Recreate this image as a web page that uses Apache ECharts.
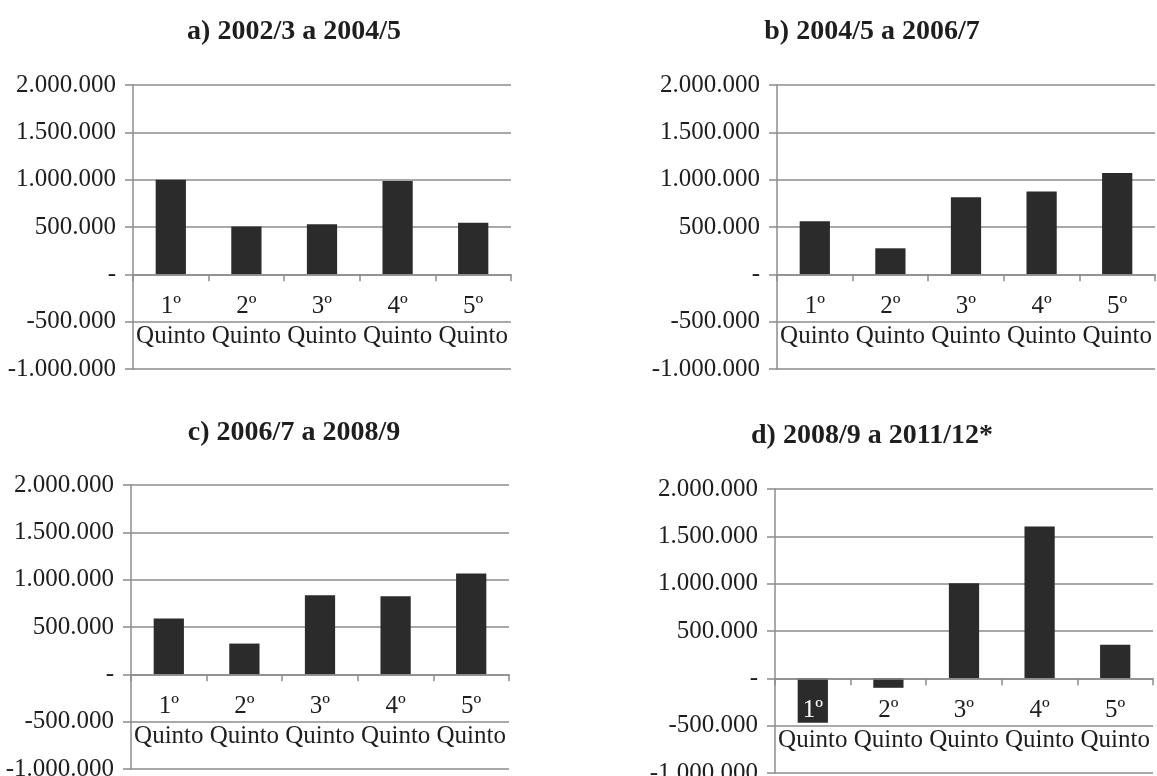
<!DOCTYPE html>
<html>
<head>
<meta charset="utf-8">
<script src="https://cdn.jsdelivr.net/npm/echarts@6/dist/echarts.min.js"></script>
<style>
html,body{margin:0;padding:0;background:#fff;}
#c{width:1157px;height:776px;}
</style>
</head>
<body>
<div id="c"></div>
<script>
const ordinals = ['1º', '2º', '3º', '4º', '5º'];
const categoryWord = 'Quinto';
const panelTitles = ['a) 2002/3 a 2004/5', 'b) 2004/5 a 2006/7', 'c) 2006/7 a 2008/9', 'd) 2008/9 a 2011/12*'];
const seriesA = [1000000, 505000, 530000, 985000, 545000];
const seriesB = [560000, 275000, 815000, 875000, 1070000];
const seriesC = [590000, 325000, 835000, 825000, 1065000];
const seriesD = [-470000, -100000, 1005000, 1605000, 355000];
const yTicks = [-1000000, -500000, 0, 500000, 1000000, 1500000, 2000000];

const FONT = "'Liberation Serif', 'DejaVu Serif', serif";
const GRAY = '#8c8c8c';
const BAR = '#2b2b2b';
const TXT = '#1e1e1e';

const allSeries = [seriesA, seriesB, seriesC, seriesD];
const grids = [
  {left: 133, top: 85, width: 378, height: 284},
  {left: 777, top: 85, width: 378, height: 284},
  {left: 131, top: 485, width: 378, height: 284},
  {left: 775, top: 489, width: 378, height: 284}
];
const titlePos = [
  {x: 289, y: 27}, {x: 867, y: 27}, {x: 289, y: 428}, {x: 867, y: 431}
];

function fmtY(v) {
  if (v === 0) return '-';
  const s = Math.abs(v).toString().replace(/\B(?=(\d{3})+(?!\d))/g, '.');
  return (v < 0 ? '-' : '') + s;
}

const categories = ordinals.map(o => o + '\n' + categoryWord);
const yMin = yTicks[0], yMax = yTicks[yTicks.length - 1];

const option = {
  animation: false,
  backgroundColor: '#fff',
  title: panelTitles.map((t, i) => ({
    text: t,
    left: titlePos[i].x,
    top: titlePos[i].y,
    textAlign: 'center',
    textVerticalAlign: 'middle',
    textStyle: {fontFamily: FONT, fontWeight: 'bold', fontSize: 28, color: TXT}
  })),
  grid: grids.map(g => Object.assign({containLabel: false, outerBoundsMode: 'none'}, g)),
  xAxis: allSeries.map((data, i) => ({
    type: 'category',
    gridIndex: i,
    data: categories,
    position: 'bottom',
    offset: -grids[i].height * (0 - yMin) / (yMax - yMin),
    z: 3,
    axisLine: {show: true, onZero: false, lineStyle: {color: GRAY, width: 1.5}},
    axisTick: {show: true, length: 7, lineStyle: {color: GRAY, width: 1.5}},
    axisLabel: {
      margin: 17,
      interval: 0,
      hideOverlap: false,
      formatter: function (value, idx) {
        const parts = value.split('\n');
        const covered = data[idx] < -300000;
        return '{' + (covered ? 'w' : 't') + '|' + parts[0] + '}\n{t|' + parts[1] + '}';
      },
      rich: {
        t: {fontFamily: FONT, fontSize: 25, color: TXT, lineHeight: 30},
        w: {fontFamily: FONT, fontSize: 25, color: '#ffffff', lineHeight: 30}
      }
    }
  })),
  yAxis: allSeries.map((d, i) => ({
    type: 'value',
    gridIndex: i,
    min: yMin,
    max: yMax,
    interval: yTicks[1] - yTicks[0],
    axisLine: {show: true, lineStyle: {color: GRAY, width: 1.5}},
    axisTick: {show: true, length: 8, lineStyle: {color: GRAY, width: 1.5}},
    splitLine: {show: true, lineStyle: {color: GRAY, width: 1.5}},
    axisLabel: {
      margin: 17,
      formatter: fmtY,
      fontFamily: FONT, fontSize: 25, color: TXT
    }
  })),
  series: allSeries.map((d, i) => ({
    type: 'bar',
    xAxisIndex: i,
    yAxisIndex: i,
    data: d,
    barWidth: '40%',
    itemStyle: {color: BAR}
  }))
};

const chart = echarts.init(document.getElementById('c'), null, {renderer: 'canvas'});
chart.setOption(option);
</script>
</body>
</html>
